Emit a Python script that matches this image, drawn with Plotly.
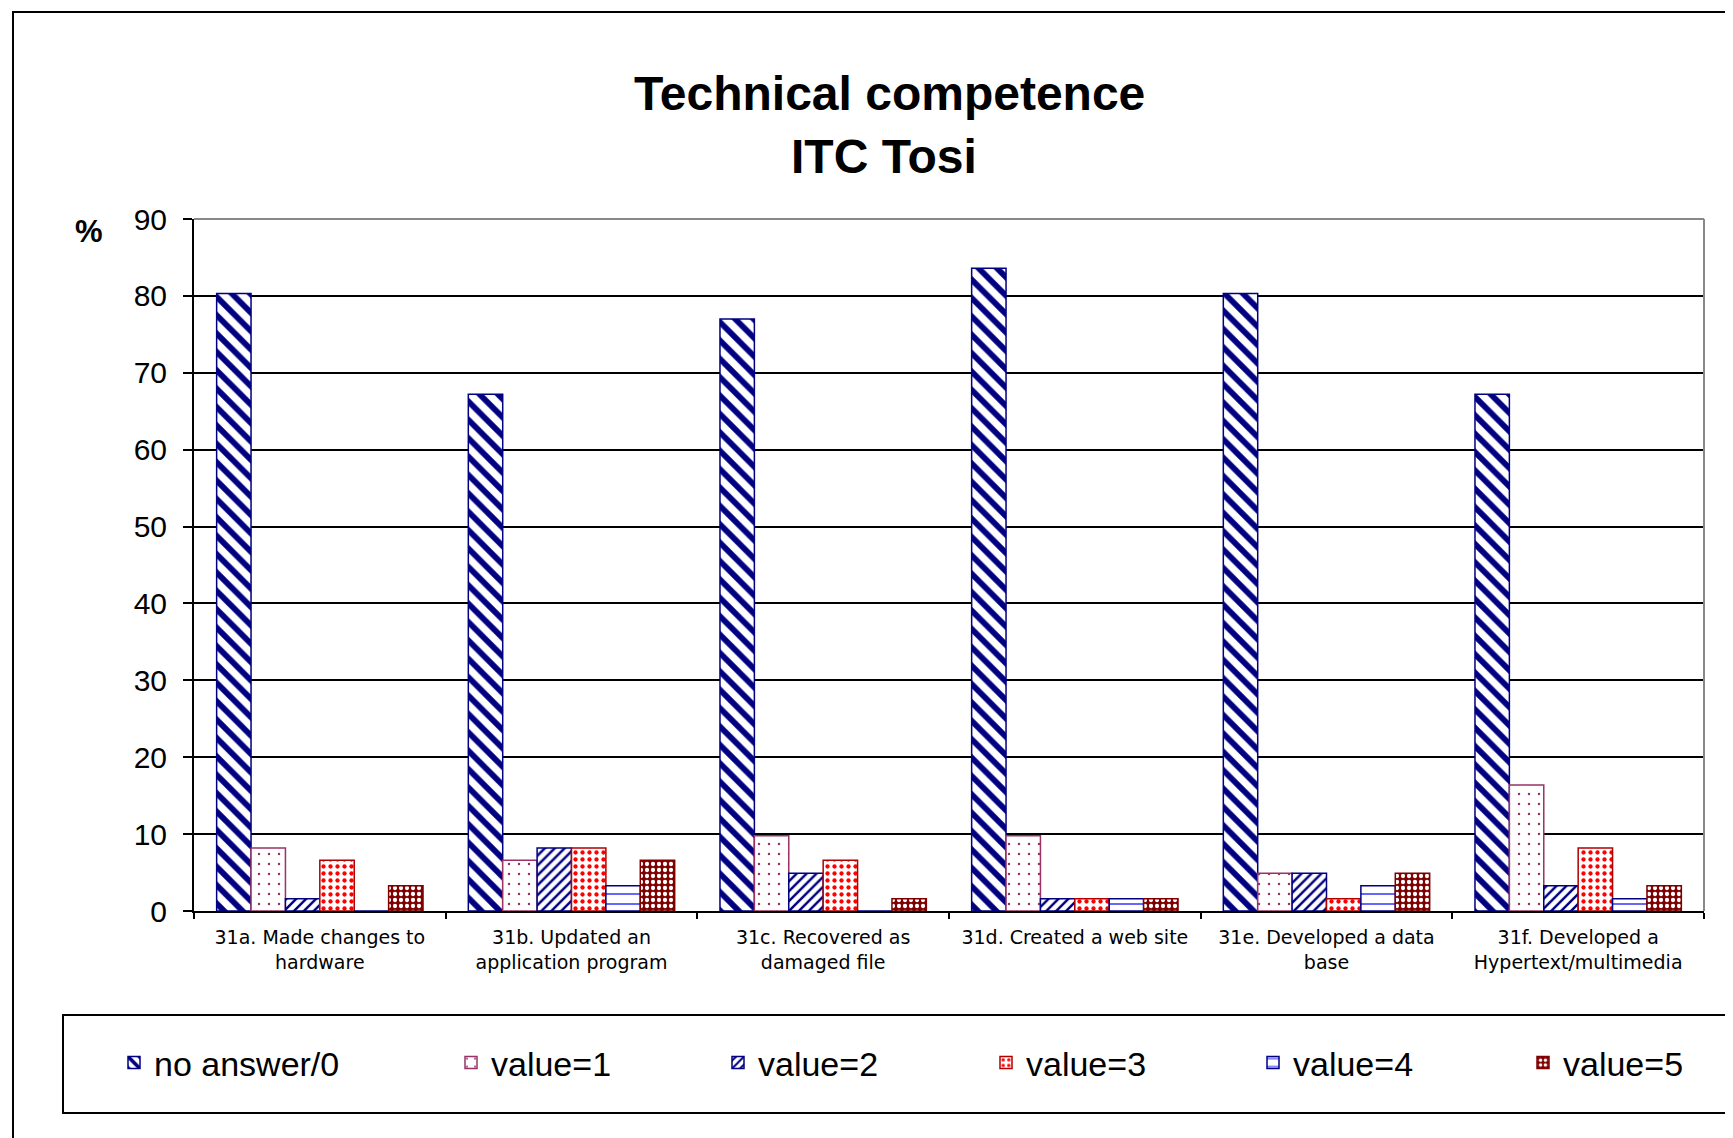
import plotly.graph_objects as go

# ---- data ----
categories = ["31a", "31b", "31c", "31d", "31e", "31f"]
category_labels = [
    "31a. Made changes to<br>hardware",
    "31b. Updated an<br>application program",
    "31c. Recovered as<br>damaged file",
    "31d. Created a web site",
    "31e. Developed a data<br>base",
    "31f. Developed a<br>Hypertext/multimedia",
]
series_names = ["no answer/0", "value=1", "value=2", "value=3", "value=4", "value=5"]
no_answer = [80.3, 67.2, 77.0, 83.6, 80.3, 67.2]
value_1 = [8.2, 6.6, 9.8, 9.8, 4.9, 16.4]
value_2 = [1.6, 8.2, 4.9, 1.6, 4.9, 3.3]
value_3 = [6.6, 8.2, 6.6, 1.6, 1.6, 8.2]
value_4 = [0.0, 3.3, 0.0, 1.6, 3.3, 1.6]
value_5 = [3.3, 6.6, 1.6, 1.6, 4.9, 3.3]
y_ticks = [0, 10, 20, 30, 40, 50, 60, 70, 80, 90]

series_values = [no_answer, value_1, value_2, value_3, value_4, value_5]

# ---- styles ----
styles = [
    dict(fg="#000080", bg="white", shape="\\", size=13, solidity=0.45, line="#000080"),
    dict(fg="#993366", bg="white", shape=".", size=10, solidity=0.05, line="#993366"),
    dict(fg="#000080", bg="white", shape="/", size=7, solidity=0.35, line="#000080"),
    dict(fg="#FF0000", bg="white", shape=".", size=7, solidity=0.3, line="#B00000"),
    dict(fg="#0000FF", bg="white", shape="-", size=10, solidity=0.12, line="#000080"),
    dict(fg="white", bg="#800000", shape=".", size=6, solidity=0.4, line="#800000"),
]

# page geometry (pixels, page coordinates); the figure sits 8px in from the page corner
OFF = 8
PAGE_W, PAGE_H = 1733, 1138
W, H = PAGE_W - OFF, PAGE_H - OFF
PL, PR, PT, PB = 194, 1704, 219, 911


def px_x(px):
    return (px - PL) / (PR - PL)


def px_y(py):
    return (PB - py) / (PB - PT)


legend_text_starts = [156, 493, 760, 1028, 1295, 1565]
legend_ids = ["legend", "legend2", "legend3", "legend4", "legend5", "legend6"]

fig = go.Figure()
for i, (name, vals, st) in enumerate(zip(series_names, series_values, styles)):
    fig.add_trace(go.Bar(
        x=categories, y=vals, name=name,
        legend=legend_ids[i],
        marker=dict(
            color=st["fg"],
            line=dict(color=st["line"], width=1.5),
            pattern=dict(shape=st["shape"], fgcolor=st["fg"], bgcolor=st["bg"],
                         size=st["size"], solidity=st["solidity"], fillmode="replace"),
        ),
        hoverinfo="x+y+name",
    ))

legend_font = dict(family="Liberation Sans, Arial, sans-serif", size=34, color="black")
layout_legends = {}
for lid, ts in zip(legend_ids, legend_text_starts):
    layout_legends[lid] = dict(
        x=px_x(ts - 42), y=px_y(1063), xanchor="left", yanchor="middle",
        orientation="h", bgcolor="rgba(0,0,0,0)", borderwidth=0,
        font=legend_font,
    )

title_font = dict(family="Liberation Sans, Arial, sans-serif", size=48, color="black")
annotations = [
    dict(text="<b>Technical competence</b>", x=px_x(889), y=px_y(94), xref="paper", yref="paper",
         showarrow=False, xanchor="center", yanchor="middle", font=title_font),
    dict(text="<b>ITC Tosi</b>", x=px_x(884), y=px_y(156), xref="paper", yref="paper",
         showarrow=False, xanchor="center", yanchor="middle", font=title_font),
    dict(text="<b>%</b>", x=px_x(89), y=px_y(231), xref="paper", yref="paper",
         showarrow=False, xanchor="center", yanchor="middle",
         font=dict(family="Liberation Sans, Arial, sans-serif", size=31, color="black")),
]

shapes = [
    # outer chart border (left/top visible, rest runs off the page)
    dict(type="rect", xref="paper", yref="paper",
         x0=px_x(13), x1=px_x(PAGE_W + 40), y0=px_y(PAGE_H + 40), y1=px_y(12),
         line=dict(color="black", width=2), fillcolor="rgba(0,0,0,0)", layer="below"),
    # legend box
    dict(type="rect", xref="paper", yref="paper",
         x0=px_x(63), x1=px_x(PAGE_W + 40), y0=px_y(1113), y1=px_y(1015),
         line=dict(color="black", width=2), fillcolor="rgba(0,0,0,0)", layer="below"),
    # gray top & right plot border
    dict(type="line", xref="paper", yref="paper", x0=0, x1=1, y0=1, y1=1,
         line=dict(color="#888888", width=2), layer="above"),
    dict(type="line", xref="paper", yref="paper", x0=1, x1=1, y0=0, y1=1,
         line=dict(color="#888888", width=2), layer="above"),
]

fig.update_layout(
    width=W, height=H,
    margin=dict(l=PL - OFF, r=PAGE_W - PR, t=PT - OFF, b=PAGE_H - PB, pad=0),
    paper_bgcolor="white", plot_bgcolor="white",
    barmode="group", bargap=0.18, bargroupgap=0,
    annotations=annotations, shapes=shapes,
    showlegend=True,
    **layout_legends,
)

fig.update_xaxes(
    type="category",
    tickvals=categories, ticktext=category_labels,
    tickfont=dict(family="DejaVu Sans, sans-serif", size=19, color="black"),
    showline=True, linecolor="black", linewidth=2,
    ticks="outside", tickson="boundaries", ticklen=6, tickwidth=2, tickcolor="black",
    ticklabelstandoff=8,
    showgrid=False,
)
fig.update_yaxes(
    range=[0, 90], tickvals=y_ticks,
    tickfont=dict(family="Liberation Sans, Arial, sans-serif", size=30, color="black"),
    showgrid=True, gridcolor="black", gridwidth=1.5,
    showline=True, linecolor="black", linewidth=2,
    ticks="outside", ticklen=9, tickwidth=2, tickcolor="black",
    ticklabelstandoff=10,
    zeroline=False,
)

fig.write_html("out.html")
